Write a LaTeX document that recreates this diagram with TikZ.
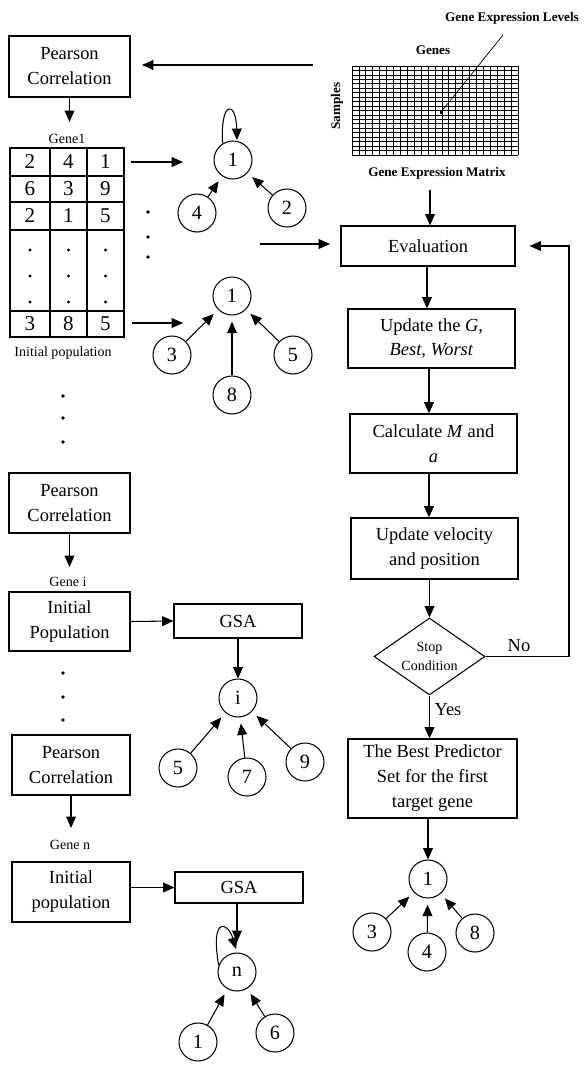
\documentclass[tikz,border=0pt]{standalone}
\usepackage{fontspec}
\setmainfont{Liberation Serif}
\usetikzlibrary{arrows.meta,shapes.geometric}
\begin{document}
\begin{tikzpicture}[x=0.02cm,y=-0.02cm,
    box/.style={draw, line width=0.6pt, align=center, inner sep=0pt, font=\fontsize{10.5}{14.2}\selectfont},
    gnode/.style={circle, draw, line width=0.6pt, minimum size=0.76cm, inner sep=0pt, font=\fontsize{11.5}{12}\selectfont},
    arr/.style={line width=0.6pt, -{Triangle[length=6.5pt,width=5.6pt]}},
    gedge/.style={arr, shorten >=3.5pt},
    lbl/.style={font=\fontsize{8}{9.5}\selectfont},
    num/.style={font=\fontsize{12}{12}\selectfont},
    bold/.style={font=\fontsize{7.5}{9}\selectfont\bfseries},
    dotm/.style={circle, fill, inner sep=0pt, minimum size=2.2pt}]
    \useasboundingbox (0,0) rectangle (583,1066);

    % 基因表达矩阵
    \foreach \i in {0,...,24} \draw[line width=0.45pt] ({352+\i*166/24},66) -- ({352+\i*166/24},155);
    \foreach \j in {0,...,20} \draw[line width=0.45pt] (352,{66+\j*89/20}) -- (518,{66+\j*89/20});
    \node[bold] (genes) at (433,50) {Genes};
    \node[bold, rotate=90] (samples) at (337,106) {Samples};
    \node[bold] (gem) at (437,173) {Gene Expression Matrix};
    \node[bold] (gel) at (512,18) {Gene Expression Levels};
    \coordinate (cell) at (441,112);
    \fill (cell) +(-1.5,-1.5) rectangle +(1.5,1.5);
    \draw[line width=0.4pt] (cell) -- (503,35);
    \coordinate (mtxw) at (313,65);
    \coordinate (mtxs) at (430,190);

    % 第一个基因
    \node[box, minimum width=2.42cm, minimum height=1.22cm] (pear1) at (69.5,66.5) {Pearson\\Correlation};
    \draw[arr] (mtxw) -- (142,65) coordinate (pear1in);
    \coordinate (gene1in) at (69.5,122);
    \draw[arr] (pear1.south) -- (gene1in);
    \node[lbl] (gene1) at (67,139) {Gene1};

    % 初始种群表
    \draw[line width=0.9pt] (10,148) rectangle (124,337);
    \foreach \x in {50,87} \draw[line width=0.9pt] (\x,148) -- (\x,337);
    \foreach \y in {176,202,230,311} \draw[line width=0.9pt] (10,\y) -- (124,\y);
    \foreach \x/\a/\b/\c/\d in {30/2/6/2/3, 68.5/4/3/1/8, 105.5/1/9/5/5} {
        \node[num] at (\x,162) {\a};
        \node[num] at (\x,189) {\b};
        \node[num] at (\x,216) {\c};
        \node[num] at (\x,324) {\d};
        \foreach \y in {250,276,302} \node[dotm, minimum size=1.8pt] at (\x,\y) {};
    }
    \node[lbl] (initpop) at (63,353) {Initial population};
    \coordinate (row1) at (131,162);
    \coordinate (rown) at (132,323);

    % 基因1的调控网络
    \node[gnode] (g1a) at (233,160) {1};
    \node[gnode] (g4a) at (197,213) {4};
    \node[gnode] (g2a) at (287,208) {2};
    \draw[arr] (row1) -- (183,162);
    \draw[arr] (g1a.122) .. controls (220,100) and (236,100) .. (237,140);
    \draw[gedge] (g4a) -- (g1a);
    \draw[gedge] (g2a) -- (g1a);

    \node[gnode] (g1b) at (232,296) {1};
    \node[gnode] (g3b) at (172,355) {3};
    \node[gnode] (g5b) at (293,355) {5};
    \node[gnode] (g8b) at (232,395) {8};
    \draw[arr] (rown) -- (183,323);
    \draw[gedge] (g3b) -- (g1b);
    \draw[gedge] (g5b) -- (g1b);
    \draw[gedge] (g8b) -- (g1b);

    % 省略号
    \foreach \y in {212,237,257} \node[dotm] at (148,\y) {};
    \foreach \y in {396,418,442,673,697,720} \node[dotm] at (63,\y) {};
    \coordinate (evalin) at (260,244);

    % GSA 流程
    \node[box, minimum width=3.48cm, minimum height=0.8cm] (eval) at (428,246) {Evaluation};
    \node[box, minimum width=3.34cm, minimum height=1.18cm] (updg) at (431.5,338.5) {Update the \textit{G},\\\textit{Best}, \textit{Worst}};
    \node[box, minimum width=3.34cm, minimum height=1.18cm] (calc) at (433.5,443.5) {Calculate \textit{M} and\\\textit{a}};
    \node[box, minimum width=3.34cm, minimum height=1.22cm] (updv) at (434.5,548.5) {Update velocity\\and position};
    \node[draw, diamond, line width=0.6pt, inner sep=0pt, aspect=1.44, minimum width=2.22cm, minimum height=1.54cm, align=center, font=\fontsize{8}{11}\selectfont] (stop) at (429.5,656.5) {Stop\\Condition};
    \node[box, minimum width=3.38cm, minimum height=1.58cm] (best) at (432.5,778.5) {The Best Predictor\\Set for the first\\target gene};
    \draw[arr] (mtxs) -- (mtxs |- eval.north);
    \draw[arr] (evalin) -- (330,244);
    \draw[arr] (eval.south -| 427,0) -- (427,0 |- updg.north);
    \draw[arr] (updg.south -| 429,0) -- (429,0 |- calc.north);
    \draw[arr] (calc.south -| 429,0) -- (429,0 |- updv.north);
    \draw[arr] (updv.south -| stop.north) -- (stop.north);
    \draw[arr] (stop.east) -- (569,656.5) |- ([xshift=8pt]eval.east);
    \node[font=\fontsize{10.5}{12}\selectfont] (no) at (519,646) {No};
    \draw[arr] (stop.south) -- (stop.south |- best.north);
    \node[font=\fontsize{10.5}{12}\selectfont] (yes) at (448,710) {Yes};

    \node[gnode] (gr) at (428,879) {1};
    \node[gnode] (g3r) at (372,932) {3};
    \node[gnode] (g4r) at (427,952) {4};
    \node[gnode] (g8r) at (475,933) {8};
    \draw[arr] (best.south -| gr.north) -- (gr.north);
    \draw[gedge] (g3r) -- (gr);
    \draw[gedge] (g4r) -- (gr);
    \draw[gedge] (g8r) -- (gr);

    % 第 i 个基因
    \node[box, minimum width=2.42cm, minimum height=1.2cm] (pear2) at (69.5,503) {Pearson\\Correlation};
    \coordinate (geneiin) at (69.5,567);
    \draw[arr] (pear2.south) -- (geneiin);
    \node[lbl] (genei) at (68,582) {Gene i};
    \node[box, minimum width=2.42cm, minimum height=1.18cm] (init1) at (69.5,621.5) {Initial\\Population};
    \node[box, minimum width=2.56cm, minimum height=0.68cm] (gsa1) at (238,621) {GSA};
    \draw[arr] (init1.east) -- (gsa1.west);
    \node[gnode] (gi) at (238,698) {i};
    \node[gnode] (g5i) at (178,768) {5};
    \node[gnode] (g7i) at (247,777) {7};
    \node[gnode] (g9i) at (305,762) {9};
    \draw[arr] (gsa1.south) -- (gi.north);
    \draw[gedge] (g5i) -- (gi);
    \draw[gedge] (g7i) -- (gi);
    \draw[gedge] (g9i) -- (gi);

    % 第 n 个基因
    \node[box, minimum width=2.36cm, minimum height=1.2cm] (pear3) at (71,765) {Pearson\\Correlation};
    \coordinate (genenin) at (71,828);
    \draw[arr] (pear3.south) -- (genenin);
    \node[lbl] (genen) at (70,845) {Gene n};
    \node[box, minimum width=2.36cm, minimum height=1.2cm] (init2) at (71,892) {Initial\\population};
    \node[box, minimum width=2.56cm, minimum height=0.62cm] (gsa2) at (239,887.5) {GSA};
    \draw[arr] (gsa2.west -| init2.east) -- (gsa2.west);
    \node[gnode] (gn) at (237,972) {n};
    \node[gnode] (g1n) at (198,1042) {1};
    \node[gnode] (g6n) at (275,1033) {6};
    \draw[arr] (gsa2.south -| gn.north) -- ([yshift=6pt]gn.north);
    \draw[arr] (gn.160) .. controls (210,915) and (228,922) .. (236,949);
    \draw[gedge] (g1n) -- (gn);
    \draw[gedge] (g6n) -- (gn);
\end{tikzpicture}
\end{document}
